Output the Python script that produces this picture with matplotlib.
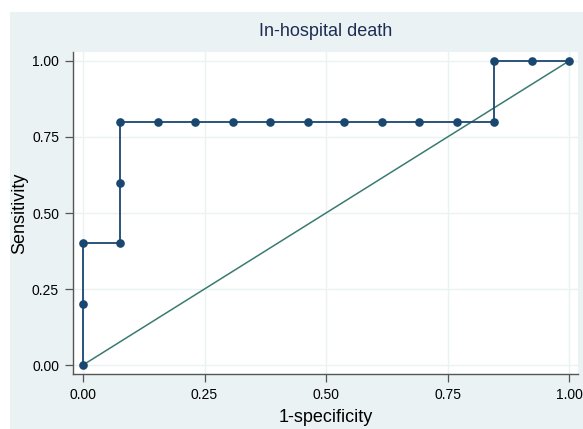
import matplotlib
matplotlib.use("Agg")
import matplotlib.pyplot as plt
from matplotlib.patches import Rectangle

# ROC points
one_minus_spec = [0.0, 0.0, 0.0, 0.077, 0.077, 0.077, 0.154, 0.231, 0.308, 0.385,
                  0.462, 0.538, 0.615, 0.692, 0.769, 0.846, 0.846, 0.923, 1.0]
sensitivity = [0.0, 0.2, 0.4, 0.4, 0.6, 0.8, 0.8, 0.8, 0.8, 0.8,
               0.8, 0.8, 0.8, 0.8, 0.8, 0.8, 1.0, 1.0, 1.0]
ref_line = [0.0, 1.0]
ticks = [0.0, 0.25, 0.5, 0.75, 1.0]
tick_labels = ["0.00", "0.25", "0.50", "0.75", "1.00"]

W, H = 583, 429
plt.rcParams["font.family"] = ["Liberation Sans", "DejaVu Sans"]

fig = plt.figure(figsize=(W / 100, H / 100), dpi=100)
fig.patch.set_facecolor("white")
fig.add_artist(Rectangle((10 / W, 0), 1 - 10 / W, (H - 12) / H,
                         transform=fig.transFigure, facecolor="#eaf2f3",
                         edgecolor="none", zorder=0))

ax = fig.add_axes([73 / W, (H - 374) / H, (578 - 73) / W, (374 - 52) / H])
ax.set_facecolor("white")

ax.plot(ref_line, ref_line, color="#3a7b70", linewidth=1.1, zorder=2)
ax.plot(one_minus_spec, sensitivity, color="#1a476f", linewidth=1.3,
        marker="o", markersize=5.2, zorder=3)

ax.set_xlim(-0.0206, 1.0185)
ax.set_ylim(-0.0296, 1.0296)
ax.set_xticks(ticks)
ax.set_xticklabels(tick_labels)
ax.set_yticks(ticks)
ax.set_yticklabels(tick_labels)
ax.grid(True, color="#eaf2f3", linewidth=1.0)
ax.set_axisbelow(True)

for side in ["top", "right"]:
    ax.spines[side].set_visible(False)
for side in ["left", "bottom"]:
    ax.spines[side].set_color("#555555")
    ax.spines[side].set_linewidth(1.0)
ax.tick_params(direction="out", length=6, width=0.9, color="#555555",
               labelsize=10, labelcolor="black", pad=4)

ax.set_xlabel("1-specificity", fontsize=13, labelpad=5)
ax.set_ylabel("Sensitivity", fontsize=13, labelpad=3)
fig.text((73 + 578) / 2 / W, 1 - 31 / H, "In-hospital death", ha="center",
         va="center", fontsize=13, color="#1e2d53")

fig.savefig("out.png", dpi=100)
